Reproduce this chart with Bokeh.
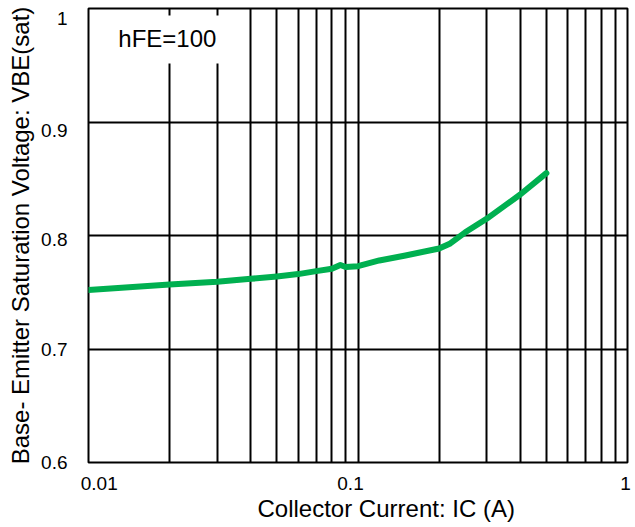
from bokeh.plotting import figure
from bokeh.models import FixedTicker, ColumnDataSource, Title
from bokeh.embed import file_html
from bokeh.resources import INLINE
from bokeh.core.properties import value

# Data
ic = [0.01, 0.02, 0.03, 0.04, 0.05, 0.06, 0.07, 0.08, 0.086, 0.09, 0.1,
      0.12, 0.15, 0.2, 0.22, 0.25, 0.3, 0.4, 0.5]
vbe = [0.752, 0.7568, 0.7592, 0.7618, 0.7639, 0.7660, 0.7686, 0.7707, 0.7740,
       0.7722, 0.7730, 0.7780, 0.7824, 0.7885, 0.793, 0.8028, 0.8147, 0.8361, 0.855]

# grid lines
x_major = [0.01, 0.1, 1]
x_minor = [0.02, 0.03, 0.04, 0.05, 0.06, 0.07, 0.08, 0.09,
           0.2, 0.3, 0.4, 0.5, 0.6, 0.7, 0.8, 0.9]
y_ticks = [0.6, 0.7, 0.8, 0.9, 1.0]

# tick labels and where the reference prints them (slightly off the grid lines)
x_tick_labels = ["0.01", "0.1", "1"]
x_label_pos = [0.01096, 0.0938, 0.983]
y_tick_labels = ["0.6", "0.7", "0.8", "0.9", "1"]
y_label_pos = [0.6, 0.6992, 0.7969, 0.8929, 0.9916]

x_title = "Collector Current: IC (A)"
y_title = "Base- Emitter Saturation Voltage: VBE(sat)"
note = "hFE=100"

FONT = "Liberation Sans"

p = figure(width=633, height=525, x_axis_type="log",
           x_range=(0.01, 1), y_range=(0.6, 1.0),
           output_backend="svg", toolbar_location=None,
           min_border_left=88, min_border_right=6, min_border_top=8,
           min_border_bottom=63)

p.outline_line_color = "black"
p.outline_line_width = 2

p.xaxis.ticker = FixedTicker(ticks=x_label_pos, minor_ticks=[])
p.yaxis.ticker = FixedTicker(ticks=y_label_pos, minor_ticks=[])
p.xaxis.major_label_overrides = dict(zip(x_label_pos, x_tick_labels))
p.yaxis.major_label_overrides = dict(zip(y_label_pos, y_tick_labels))

for ax in (p.xaxis, p.yaxis):
    ax.axis_line_color = None
    ax.major_tick_line_color = None
    ax.minor_tick_line_color = None
    ax.major_label_text_font = FONT
    ax.major_label_text_font_size = "19px"
    ax.major_label_text_color = "black"
    ax.axis_label_text_font = FONT
    ax.axis_label_text_font_size = "24px"
    ax.axis_label_text_font_style = "normal"
    ax.axis_label_text_color = "black"

p.xaxis.major_label_standoff = 8
p.yaxis.major_label_standoff = 15
p.yaxis.axis_label_standoff = 4
p.yaxis.axis_label = y_title

# x-axis title, placed right of centre as in the reference
p.add_layout(Title(text=x_title, align="left", offset=169, standoff=0,
                   text_font=FONT, text_font_size="24px",
                   text_font_style="normal", text_color="black"), "below")

p.xgrid.ticker = FixedTicker(ticks=x_major, minor_ticks=x_minor)
p.ygrid.ticker = FixedTicker(ticks=y_ticks, minor_ticks=[])
p.xgrid.grid_line_color = "black"
p.xgrid.grid_line_width = 2
p.xgrid.minor_grid_line_color = "black"
p.xgrid.minor_grid_line_width = 2
p.ygrid.grid_line_color = "black"
p.ygrid.grid_line_width = 2

# white box behind the hFE label
p.quad(left=[0.0103], right=[0.0335], bottom=[0.9515], top=[0.9938],
       fill_color="white", line_color=None)
p.text(x=[0.0129], y=[0.9736], text=[note], text_font=value(FONT),
       text_font_size="24px", text_align="left", text_baseline="middle",
       text_color="black")

src = ColumnDataSource(data=dict(ic=ic, vbe=vbe))
p.line("ic", "vbe", source=src, line_color="#00B050", line_width=6,
       line_join="round", line_cap="round")

open("out.html", "w").write(file_html(p, INLINE))
